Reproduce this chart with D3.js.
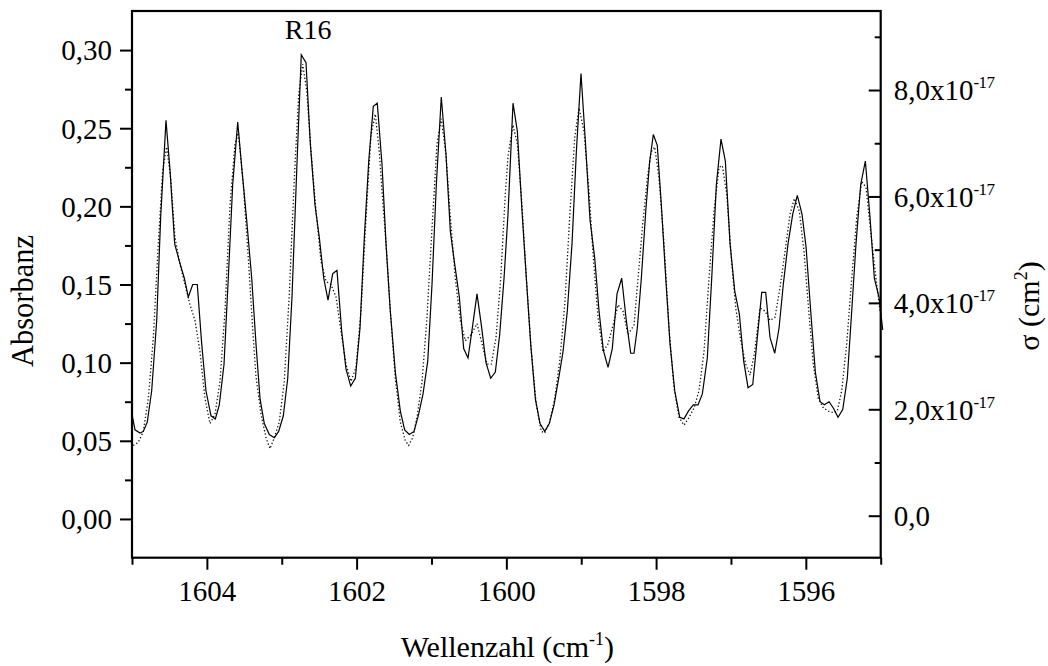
<!DOCTYPE html>
<html><head><meta charset="utf-8">
<script src="https://cdn.jsdelivr.net/npm/d3@7"></script>
<style>
html,body{margin:0;padding:0;background:#fff;}
svg text{font-family:"Liberation Serif","Times New Roman",serif;fill:#000;}
</style></head>
<body><svg id="chart" width="1048" height="666" font-family="Liberation Serif"></svg>
<script>
// measured spectrum (solid)
const measWave = [1605.000,1604.960,1604.893,1604.849,1604.796,1604.737,1604.670,1604.617,1604.546,1604.492,1604.430,1604.368,1604.301,1604.248,1604.189,1604.128,1604.069,1604.012,1603.945,1603.887,1603.834,1603.771,1603.714,1603.655,1603.588,1603.531,1603.468,1603.401,1603.344,1603.290,1603.233,1603.166,1603.099,1603.041,1602.979,1602.920,1602.863,1602.800,1602.739,1602.676,1602.618,1602.556,1602.498,1602.439,1602.382,1602.319,1602.262,1602.199,1602.142,1602.079,1602.017,1601.955,1601.897,1601.838,1601.777,1601.724,1601.661,1601.607,1601.550,1601.483,1601.416,1601.358,1601.296,1601.233,1601.171,1601.113,1601.050,1600.993,1600.935,1600.869,1600.806,1600.748,1600.690,1600.628,1600.570,1600.512,1600.449,1600.392,1600.334,1600.272,1600.209,1600.147,1600.089,1600.031,1599.978,1599.911,1599.853,1599.791,1599.733,1599.675,1599.613,1599.550,1599.488,1599.426,1599.363,1599.301,1599.243,1599.186,1599.123,1599.065,1599.003,1598.945,1598.882,1598.820,1598.762,1598.705,1598.642,1598.585,1598.522,1598.459,1598.398,1598.339,1598.295,1598.251,1598.197,1598.138,1598.085,1598.037,1597.984,1597.930,1597.871,1597.814,1597.751,1597.684,1597.627,1597.569,1597.503,1597.440,1597.382,1597.316,1597.257,1597.195,1597.133,1597.075,1597.012,1596.950,1596.888,1596.830,1596.772,1596.709,1596.656,1596.589,1596.536,1596.478,1596.415,1596.358,1596.301,1596.238,1596.175,1596.114,1596.051,1595.997,1595.935,1595.873,1595.810,1595.753,1595.690,1595.633,1595.570,1595.507,1595.446,1595.387,1595.330,1595.267,1595.205,1595.143,1595.085,1595.023,1594.973];
const measAbs = [0.067,0.057,0.055,0.056,0.062,0.082,0.127,0.193,0.255,0.223,0.176,0.165,0.154,0.142,0.150,0.150,0.112,0.082,0.066,0.064,0.073,0.099,0.154,0.214,0.254,0.223,0.191,0.154,0.112,0.077,0.061,0.054,0.052,0.056,0.066,0.090,0.142,0.223,0.297,0.292,0.240,0.201,0.180,0.154,0.140,0.157,0.159,0.120,0.096,0.085,0.090,0.122,0.180,0.229,0.264,0.266,0.227,0.176,0.133,0.094,0.069,0.057,0.054,0.056,0.067,0.080,0.101,0.150,0.214,0.270,0.233,0.184,0.163,0.142,0.109,0.103,0.124,0.144,0.124,0.100,0.090,0.094,0.118,0.154,0.195,0.266,0.248,0.197,0.154,0.112,0.077,0.061,0.056,0.061,0.073,0.090,0.107,0.133,0.176,0.235,0.285,0.242,0.191,0.167,0.133,0.108,0.097,0.109,0.144,0.154,0.127,0.106,0.106,0.122,0.154,0.197,0.229,0.246,0.239,0.201,0.154,0.112,0.082,0.065,0.064,0.069,0.073,0.073,0.080,0.103,0.154,0.214,0.243,0.229,0.176,0.146,0.131,0.101,0.084,0.086,0.112,0.145,0.145,0.116,0.106,0.122,0.150,0.176,0.195,0.207,0.195,0.174,0.133,0.094,0.075,0.073,0.075,0.071,0.065,0.070,0.090,0.133,0.176,0.214,0.229,0.193,0.154,0.142,0.121];
// simulated spectrum (dotted)
const simWave = [1604.983,1604.916,1604.849,1604.782,1604.715,1604.649,1604.590,1604.537,1604.483,1604.426,1604.359,1604.292,1604.225,1604.159,1604.092,1604.025,1603.958,1603.891,1603.825,1603.758,1603.691,1603.624,1603.580,1603.513,1603.447,1603.380,1603.344,1603.277,1603.210,1603.157,1603.099,1603.033,1602.966,1602.899,1602.832,1602.773,1602.720,1602.666,1602.609,1602.542,1602.476,1602.409,1602.342,1602.275,1602.208,1602.142,1602.075,1602.008,1601.941,1601.874,1601.808,1601.750,1601.697,1601.661,1601.607,1601.550,1601.483,1601.416,1601.350,1601.304,1601.251,1601.193,1601.126,1601.060,1600.993,1600.926,1600.869,1600.806,1600.748,1600.682,1600.615,1600.548,1600.468,1600.392,1600.325,1600.258,1600.201,1600.138,1600.075,1600.014,1599.978,1599.911,1599.853,1599.791,1599.733,1599.666,1599.600,1599.533,1599.488,1599.421,1599.354,1599.287,1599.220,1599.154,1599.087,1599.029,1598.963,1598.900,1598.838,1598.776,1598.709,1598.642,1598.575,1598.508,1598.442,1598.375,1598.295,1598.241,1598.184,1598.117,1598.064,1598.018,1597.961,1597.894,1597.827,1597.761,1597.694,1597.627,1597.560,1597.493,1597.427,1597.360,1597.293,1597.226,1597.159,1597.115,1597.057,1596.995,1596.936,1596.869,1596.803,1596.745,1596.683,1596.612,1596.545,1596.478,1596.412,1596.345,1596.278,1596.211,1596.154,1596.087,1596.024,1595.961,1595.900,1595.833,1595.766,1595.699,1595.633,1595.579,1595.521,1595.454,1595.387,1595.320,1595.253,1595.196,1595.134,1595.063,1595.009];
const simAbs = [0.047,0.049,0.056,0.077,0.116,0.176,0.223,0.238,0.218,0.180,0.163,0.150,0.137,0.127,0.107,0.077,0.061,0.067,0.088,0.133,0.201,0.240,0.247,0.214,0.167,0.116,0.091,0.067,0.052,0.045,0.052,0.062,0.088,0.144,0.218,0.272,0.291,0.274,0.235,0.197,0.165,0.152,0.150,0.142,0.120,0.099,0.088,0.097,0.133,0.193,0.246,0.259,0.235,0.210,0.176,0.133,0.090,0.062,0.050,0.047,0.052,0.065,0.088,0.129,0.186,0.240,0.256,0.233,0.193,0.154,0.127,0.114,0.118,0.125,0.112,0.099,0.099,0.116,0.154,0.208,0.232,0.252,0.240,0.201,0.154,0.107,0.073,0.056,0.055,0.062,0.077,0.101,0.137,0.193,0.244,0.263,0.248,0.212,0.167,0.129,0.107,0.112,0.124,0.137,0.133,0.118,0.124,0.154,0.186,0.218,0.235,0.238,0.218,0.176,0.122,0.084,0.065,0.060,0.065,0.071,0.082,0.107,0.154,0.197,0.225,0.226,0.208,0.167,0.135,0.114,0.099,0.092,0.107,0.135,0.133,0.127,0.129,0.148,0.171,0.195,0.205,0.197,0.171,0.133,0.099,0.077,0.071,0.069,0.068,0.069,0.082,0.112,0.154,0.193,0.216,0.212,0.184,0.154,0.133];
const xMajorTicks = [1604,1602,1600,1598,1596];
const xMinorTicks = [1605,1603,1601,1599,1597,1595];
const yLeftMajor = [0.00,0.05,0.10,0.15,0.20,0.25,0.30];
const yLeftMinor = [0.025,0.075,0.125,0.175,0.225,0.275];
const yRightMajor = [0,2,4,6,8];           // units of 1e-17 cm^2
const yRightMinor = [1,3,5,7,9];
const peakLabel = {text:"R16", wave:1602.74};

const FONT = '"Liberation Serif","Times New Roman",serif';
const svg = d3.select("#chart");
const L=132, R=880.7, T=11, B=557.7;
const x = d3.scaleLinear().domain([1605,1595]).range([L,R]);
const y = d3.scaleLinear().domain([-0.0248,0.325]).range([B,T]);
const y2 = d3.scaleLinear().domain([-0.789,9.485]).range([B,T]);

svg.append("clipPath").attr("id","clp").append("rect")
  .attr("x",L).attr("y",T).attr("width",R-L+2).attr("height",B-T);

const line = d3.line().x(d=>x(d[0])).y(d=>y(d[1]));
const simData = simWave.map((w,i)=>[w,simAbs[i]]);
const measData = measWave.map((w,i)=>[w,measAbs[i]]);

svg.append("path").datum(simData).attr("d",line).attr("clip-path","url(#clp)")
  .attr("fill","none").attr("stroke","#111").attr("stroke-width",1.3).attr("stroke-dasharray","1.3,2.2");
svg.append("path").datum(measData).attr("d",line)
  .attr("fill","none").attr("stroke","#000").attr("stroke-width",1.2);

// frame
svg.append("rect").attr("x",L).attr("y",T).attr("width",R-L).attr("height",B-T)
  .attr("fill","none").attr("stroke","#000").attr("stroke-width",2.2);

const fs = 29;
const gx = svg.append("g").attr("transform",`translate(0,${B})`)
  .call(d3.axisBottom(x).tickValues(xMajorTicks).tickSize(12).tickPadding(10).tickFormat(d3.format("d")));
const gxm = svg.append("g").attr("transform",`translate(0,${B})`)
  .call(d3.axisBottom(x).tickValues(xMinorTicks).tickSize(7).tickFormat(""));
const fmtL = v => d3.format(".2f")(v).replace(".",",");
const gy = svg.append("g").attr("transform",`translate(${L},0)`)
  .call(d3.axisLeft(y).tickValues(yLeftMajor).tickSize(12).tickPadding(8).tickFormat(fmtL));
const gym = svg.append("g").attr("transform",`translate(${L},0)`)
  .call(d3.axisLeft(y).tickValues(yLeftMinor).tickSize(7).tickFormat(""));
const gr = svg.append("g").attr("transform",`translate(${R},0)`)
  .call(d3.axisRight(y2).tickValues(yRightMajor).tickSizeInner(-12).tickSizeOuter(0).tickPadding(13).tickFormat(""));
const grm = svg.append("g").attr("transform",`translate(${R},0)`)
  .call(d3.axisRight(y2).tickValues(yRightMinor).tickSizeInner(-6).tickSizeOuter(0).tickFormat(""));

[gx,gxm,gy,gym,gr,grm].forEach(g=>{
  g.attr("font-family",null).attr("font-size",null);
  g.select(".domain").remove();
  g.selectAll(".tick line").attr("stroke","#000").attr("stroke-width",2);
  g.selectAll("text").style("font-family",FONT).style("font-size",fs+"px").attr("fill","#000");
});
gy.selectAll("text").attr("dy","0.34em");
gx.selectAll("text").attr("dy","0.72em");

gr.selectAll(".tick").each(function(d){
  const t = d3.select(this).append("text").attr("x",13).attr("dy","0.34em")
    .attr("text-anchor","start").style("font-family",FONT)
    .style("font-size",fs+"px").attr("fill","#000");
  if(d===0){ t.text("0,0"); }
  else {
    t.append("tspan").text(d3.format(".1f")(d).replace(".",",")+"x10");
    t.append("tspan").attr("dy","-12").style("font-size","17px").attr("letter-spacing","-0.5").text("-17");
  }
});

const xt = svg.append("text").attr("x",(L+R)/2+1).attr("y",657).attr("text-anchor","middle")
  .style("font-family",FONT).style("font-size","30px");
xt.append("tspan").text("Wellenzahl (cm");
xt.append("tspan").attr("dy","-12").style("font-size","18px").text("-1");
xt.append("tspan").attr("dy","12").text(")");

svg.append("text").attr("transform","translate(33,301) rotate(-90)").attr("text-anchor","middle")
  .style("font-family",FONT).style("font-size","30.5px").text("Absorbanz");

const rt = svg.append("text").attr("transform","translate(1039,306) rotate(-90)").attr("text-anchor","middle")
  .style("font-family",FONT).style("font-size","30px");
rt.append("tspan").text("σ (cm");
rt.append("tspan").attr("dy","-12").style("font-size","18px").text("2");
rt.append("tspan").attr("dy","12").text(")");

svg.append("text").attr("x",x(peakLabel.wave)+7).attr("y",39).attr("text-anchor","middle")
  .style("font-family",FONT).style("font-size","28px").text(peakLabel.text);
</script></body></html>
